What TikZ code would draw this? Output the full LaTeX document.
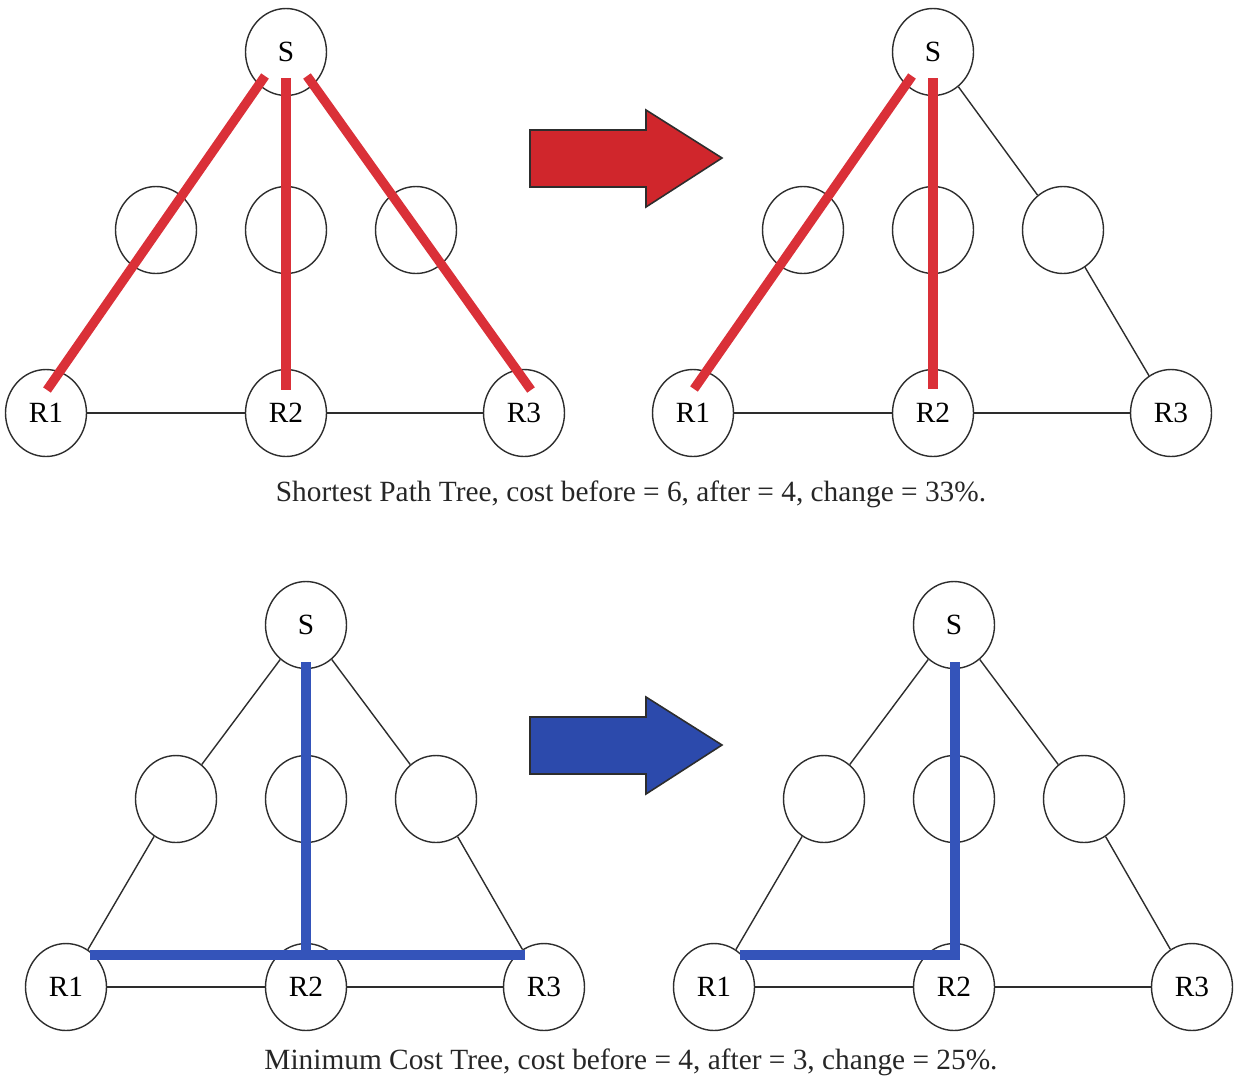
\documentclass[tikz,border=0pt]{standalone}
\usepackage{fontspec}
\setmainfont{Liberation Serif}
\usepackage{tikz}
\usetikzlibrary{calc,shapes.geometric}
\definecolor{sptred}{RGB}{218,48,56}
\definecolor{mctblue}{RGB}{52,84,186}
\definecolor{arrred}{RGB}{208,38,44}
\definecolor{arrblue}{RGB}{44,74,172}
\definecolor{linegray}{RGB}{45,45,45}
\tikzset{
  rnode/.style={ellipse, draw=linegray, line width=0.8pt, inner sep=0pt,
      minimum width=1.62cm, minimum height=1.74cm, font=\fontsize{16.7}{20}\selectfont},
  tedge/.style={linegray, line width=0.8pt},
  sptline/.style={sptred, line width=5.3pt},
  mctline/.style={mctblue, line width=5.6pt, line join=miter},
  bigarr/.style={draw=linegray, line width=0.9pt, line join=miter},
  capt/.style={font=\fontsize{16.7}{20}\selectfont, text=black!85},
}
\begin{document}
\begin{tikzpicture}[x=0.02cm,y=-0.02cm]
\useasboundingbox (0,0) rectangle (1238,1079);
% the same small network, four times
\foreach \p/\sx/\sy/\my/\ry in {a/286/52/230/413, b/933/52/230/413, c/306/625/799/987, d/954/625/799/987}{
  \node[rnode] (\p S)  at (\sx,\sy)     {S};
  \node[rnode] (\p A)  at (\sx-130,\my) {};
  \node[rnode] (\p B)  at (\sx,\my)     {};
  \node[rnode] (\p C)  at (\sx+130,\my) {};
  \node[rnode] (\p R1) at (\sx-240,\ry) {R1};
  \node[rnode] (\p R2) at (\sx,\ry)     {R2};
  \node[rnode] (\p R3) at (\sx+238,\ry) {R3};
  \draw[tedge] (\p R1) -- (\p R2);
  \draw[tedge] (\p R2) -- (\p R3);}
\foreach \p in {b,c,d}{
  \draw[tedge] (\p S) -- (\p C);  \draw[tedge] (\p C) -- (\p R3);}
\foreach \p in {c,d}{
  \draw[tedge] (\p S) -- (\p A);  \draw[tedge] (\p A) -- (\p R1);}
% shortest path tree
\draw[sptline] ($(aS)+(-21,24)$) -- ($(aR1)+(1,-23)$);
\draw[sptline] ($(aS)+(0,26)$)   -- ($(aR2)+(0,-23)$);
\draw[sptline] ($(aS)+(21,24)$)  -- ($(aR3)+(7,-23)$);
\draw[sptline] ($(bS)+(-21,24)$) -- ($(bR1)+(1,-24)$);
\draw[sptline] ($(bS)+(0,26)$)   -- ($(bR2)+(0,-24)$);
% minimum cost tree
\draw[mctline] ($(cS)+(0,37)$)    -- ($(cR2)+(0,-30)$);
\draw[mctline] ($(cR1)+(24,-32)$) -- ($(cR3)+(-19,-32)$);
\draw[mctline] ($(dS)+(1,37)$)    |- ($(dR1)+(26,-32)$);
% block arrows
\foreach \yc/\col in {158/arrred, 745/arrblue}
  \draw[bigarr, fill=\col] (530,\yc-28) -- (646,\yc-28) -- (646,\yc-48) -- (722,\yc)
      -- (646,\yc+49) -- (646,\yc+29) -- (530,\yc+29) -- cycle;
\node[capt] (sptcap) at (631,494) {Shortest Path Tree, cost before = 6, after = 4, change = 33\%.};
\node[capt] (mctcap) at (631,1062) {Minimum Cost Tree, cost before = 4, after = 3, change = 25\%.};
\end{tikzpicture}
\end{document}
